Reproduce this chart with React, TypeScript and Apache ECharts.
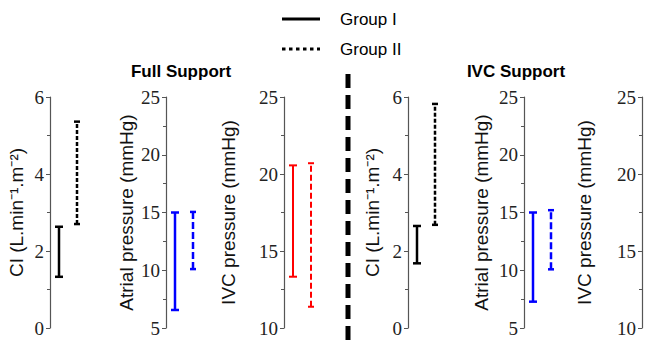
import React, { useEffect, useRef } from "react";
import * as echarts from "echarts";

const groups = ["Group I", "Group II"];

const panelNames = [
  "CI (L.min⁻¹.m⁻²)",
  "Atrial pressure (mmHg)",
  "IVC pressure (mmHg)",
  "CI (L.min⁻¹.m⁻²)",
  "Atrial pressure (mmHg)",
  "IVC pressure (mmHg)",
];
const axisMin = [0, 5, 10, 0, 5, 10];
const axisMax = [6, 25, 25, 6, 25, 25];
const axisInterval = [2, 5, 5, 2, 5, 5];

// Full support
const fullCILow = [1.33, 2.7];
const fullCIHigh = [2.63, 5.36];
const fullAtrialLow = [6.56, 10.1];
const fullAtrialHigh = [15.0, 15.05];
const fullIVCLow = [13.33, 11.38];
const fullIVCHigh = [20.56, 20.7];
// IVC support
const ivcCILow = [1.68, 2.68];
const ivcCIHigh = [2.65, 5.82];
const ivcAtrialLow = [7.28, 10.08];
const ivcAtrialHigh = [15.0, 15.2];
const ivcIVCLow: number[] = [];
const ivcIVCHigh: number[] = [];

const panelLows = [fullCILow, fullAtrialLow, fullIVCLow, ivcCILow, ivcAtrialLow, ivcIVCLow];
const panelHighs = [fullCIHigh, fullAtrialHigh, fullIVCHigh, ivcCIHigh, ivcAtrialHigh, ivcIVCHigh];

const panelColors = ["#000000", "#0000ff", "#ff0000", "#000000", "#0000ff", "#ff0000"];
const panelDash = [[4, 2], [7, 3], [6, 3], [4, 2], [7, 3], [6, 3]];
const panelWidth = [2.5, 2.5, 2, 2.5, 2.5, 2];

const axisX = [50, 166, 284, 408, 524, 642];
const nameGaps = [24, 30, 46, 26, 33, 48];

const SANS = "Liberation Sans";
const SERIF = "serif";

export default function App() {
  const ref = useRef<HTMLDivElement>(null);
  useEffect(() => {
    if (!ref.current) return;
    const chart = echarts.init(ref.current, null, { renderer: "svg" });
    const grids = axisX.map((x) => ({ left: x, width: 36, top: 97, height: 231 }));
    const xAxes = axisX.map((_, i) => ({
      type: "category",
      gridIndex: i,
      data: groups,
      show: false,
      boundaryGap: true,
    }));
    const yAxes = axisX.map((_, i) => ({
      type: "value",
      gridIndex: i,
      min: axisMin[i],
      max: axisMax[i],
      interval: axisInterval[i],
      name: panelNames[i],
      nameLocation: "middle",
      nameGap: nameGaps[i],
      nameTextStyle: { fontFamily: SANS, fontSize: 19, color: "#111" },
      axisLine: { show: true, lineStyle: { color: "#555", width: 1.2 } },
      axisTick: { show: true, length: 4, lineStyle: { color: "#555" } },
      minorTick: { show: true, splitNumber: 2, length: 3, lineStyle: { color: "#555" } },
      axisLabel: { show: true, fontFamily: SERIF, fontSize: 19, color: "#222", margin: 6 },
      splitLine: { show: false },
      minorSplitLine: { show: false },
    }));
    const series = axisX.map((_, i) => ({
      type: "custom",
      xAxisIndex: i,
      yAxisIndex: i,
      data: panelLows[i].map((lo, g) => [g, lo, panelHighs[i][g]]),
      renderItem: (params: any, api: any) => {
        const g = api.value(0);
        const p1 = api.coord([g, api.value(1)]);
        const p2 = api.coord([g, api.value(2)]);
        const dashed = g === 1;
        const style = {
          stroke: panelColors[i],
          lineWidth: panelWidth[i],
          lineDash: dashed ? panelDash[i] : null,
        };
        const capStyle = { stroke: panelColors[i], lineWidth: panelWidth[i] };
        const cw = dashed ? 3 : 4;
        return {
          type: "group",
          children: [
            { type: "line", shape: { x1: p1[0], y1: p1[1], x2: p2[0], y2: p2[1] }, style },
            { type: "line", shape: { x1: p1[0] - cw, y1: p1[1], x2: p1[0] + cw, y2: p1[1] }, style: capStyle },
            { type: "line", shape: { x1: p2[0] - cw, y1: p2[1], x2: p2[0] + cw, y2: p2[1] }, style: capStyle },
          ],
        };
      },
    }));
    chart.setOption({
      animation: false,
      backgroundColor: "#ffffff",
      textStyle: { fontFamily: SANS },
      grid: grids,
      xAxis: xAxes,
      yAxis: yAxes,
      series,
      graphic: [
        { type: "line", shape: { x1: 282, y1: 19, x2: 320, y2: 19 }, style: { stroke: "#000", lineWidth: 3 } },
        { type: "text", x: 340, y: 19, style: { text: "Group I", font: "17px 'Liberation Sans'", fill: "#000", textVerticalAlign: "middle" } },
        { type: "line", shape: { x1: 282, y1: 49, x2: 320, y2: 49 }, style: { stroke: "#000", lineWidth: 3, lineDash: [3.5, 3.5] } },
        { type: "text", x: 340, y: 49, style: { text: "Group II", font: "17px 'Liberation Sans'", fill: "#000", textVerticalAlign: "middle" } },
        { type: "text", x: 181, y: 71, style: { text: "Full Support", font: "bold 17px 'Liberation Sans'", fill: "#000", textAlign: "center", textVerticalAlign: "middle" } },
        { type: "text", x: 516, y: 71, style: { text: "IVC Support", font: "bold 17px 'Liberation Sans'", fill: "#000", textAlign: "center", textVerticalAlign: "middle" } },
        { type: "line", shape: { x1: 348, y1: 74, x2: 348, y2: 345 }, style: { stroke: "#000", lineWidth: 5, lineDash: [14, 7] } },
      ],
    });
    return () => chart.dispose();
  }, []);
  return <div ref={ref} style={{ width: 647, height: 345, position: "absolute", left: 0, top: 0 }} />;
}
